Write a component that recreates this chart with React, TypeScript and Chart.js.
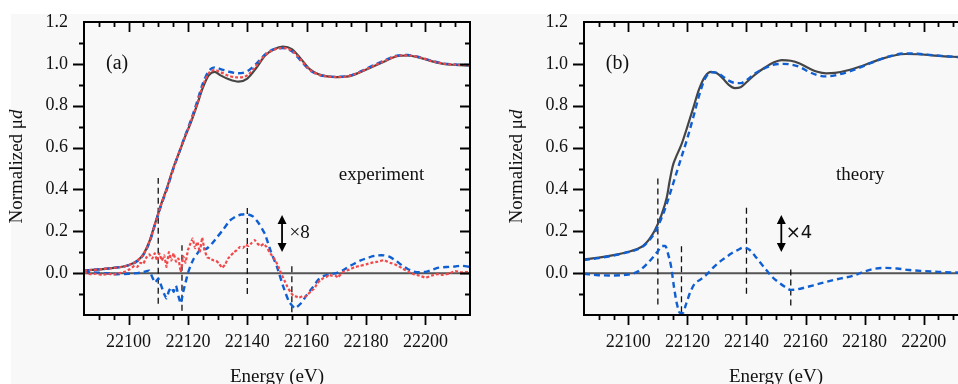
import React, { useEffect, useRef } from "react";
import { Chart, registerables } from "chart.js";
Chart.register(...registerables);

const SERIF = '"Liberation Serif", "Times New Roman", serif';
const SANS = '"DejaVu Sans", "Liberation Sans", sans-serif';

// ---------- axes ----------
const xMin = 22085;
const xMax = 22215;
const yMin = -0.2;
const yMax = 1.2;
const xTickValues = [22100, 22120, 22140, 22160, 22180, 22200];
const yTickValues = [0, 0.2, 0.4, 0.6, 0.8, 1.0, 1.2];
const xMinorStep = 5;
const yMinorStep = 0.1;

// ---------- panel (a) experiment : XANES ----------
const expE = [22085, 22090, 22095, 22100, 22103, 22105, 22107, 22109, 22111, 22113, 22115, 22117, 22119, 22121, 22123, 22125, 22127, 22129, 22131, 22134, 22137, 22140, 22143, 22146, 22149, 22152, 22155, 22158, 22161, 22164, 22167, 22170, 22174, 22178, 22182, 22186, 22190, 22194, 22198, 22202, 22206, 22210, 22215];
const expBlack = [0.012, 0.018, 0.025, 0.038, 0.06, 0.09, 0.15, 0.24, 0.33, 0.41, 0.5, 0.575, 0.65, 0.72, 0.8, 0.885, 0.945, 0.962, 0.945, 0.925, 0.915, 0.93, 0.98, 1.04, 1.07, 1.082, 1.07, 1.025, 0.975, 0.95, 0.94, 0.937, 0.94, 0.96, 0.985, 1.01, 1.035, 1.04, 1.03, 1.013, 1.0, 0.995, 0.992];
const expBlue = [0.012, 0.018, 0.025, 0.038, 0.058, 0.088, 0.145, 0.235, 0.325, 0.405, 0.495, 0.575, 0.655, 0.73, 0.815, 0.905, 0.965, 0.983, 0.975, 0.962, 0.955, 0.965, 1.0, 1.045, 1.07, 1.075, 1.06, 1.015, 0.97, 0.948, 0.94, 0.938, 0.942, 0.963, 0.99, 1.015, 1.038, 1.042, 1.032, 1.015, 1.002, 0.997, 0.994];
const expRed = [0.012, 0.018, 0.025, 0.038, 0.06, 0.09, 0.148, 0.238, 0.328, 0.408, 0.498, 0.575, 0.652, 0.725, 0.805, 0.895, 0.955, 0.97, 0.96, 0.942, 0.935, 0.945, 0.99, 1.042, 1.068, 1.076, 1.063, 1.02, 0.972, 0.949, 0.94, 0.937, 0.941, 0.961, 0.987, 1.012, 1.036, 1.041, 1.031, 1.014, 1.001, 0.996, 0.993];

// ---------- panel (a) differences (x8) ----------
const expDiffBlueE = [22085, 22088, 22092, 22096, 22100, 22103, 22105, 22107, 22108, 22109, 22110, 22111, 22112, 22112.8, 22113.6, 22114.4, 22115.2, 22116, 22116.8, 22117.6, 22118.4, 22119.2, 22120, 22121, 22122, 22123, 22124, 22125, 22126, 22127, 22128, 22130, 22132, 22134, 22136, 22138, 22140, 22142, 22144, 22146, 22148, 22150, 22152, 22154, 22156, 22158, 22160, 22162, 22164, 22166, 22168, 22170, 22172, 22174, 22176, 22178, 22180, 22182, 22184, 22186, 22188, 22190, 22192, 22194, 22196, 22198, 22200, 22202, 22204, 22206, 22208, 22210, 22212, 22215];
const expDiffBlue = [0.005, 0.003, 0.0, -0.005, -0.003, 0.0, 0.005, 0.012, -0.02, -0.045, -0.025, -0.06, -0.1, -0.12, -0.085, -0.068, -0.09, -0.06, -0.11, -0.145, -0.09, -0.045, 0.0, 0.04, 0.07, 0.09, 0.11, 0.12, 0.115, 0.125, 0.14, 0.175, 0.21, 0.25, 0.27, 0.28, 0.282, 0.27, 0.235, 0.185, 0.1, 0.03, -0.06, -0.135, -0.168, -0.145, -0.105, -0.068, -0.03, -0.012, -0.005, 0.0, 0.012, 0.03, 0.045, 0.06, 0.07, 0.08, 0.085, 0.085, 0.078, 0.06, 0.038, 0.02, 0.007, 0.004, 0.006, 0.015, 0.025, 0.028, 0.03, 0.032, 0.036, 0.03];
const expDiffRedE = [22085, 22087, 22089, 22091, 22093, 22095, 22097, 22099, 22100.5, 22102, 22103, 22104, 22105, 22106, 22107, 22108, 22108.8, 22109.6, 22110.4, 22111.2, 22112, 22112.8, 22113.6, 22114.4, 22115.2, 22116, 22116.8, 22117.6, 22118.4, 22119.2, 22120, 22120.8, 22121.6, 22122.4, 22123.2, 22124, 22124.8, 22125.6, 22126.5, 22127.5, 22128.5, 22129.5, 22130.5, 22131.5, 22132.5, 22133.5, 22134.5, 22135.5, 22136.5, 22137.5, 22138.5, 22139.5, 22140.5, 22141.5, 22142.5, 22143.5, 22144.5, 22145.5, 22146.5, 22147.5, 22148.5, 22149.5, 22150.5, 22151.5, 22152.5, 22153.5, 22154.5, 22155.5, 22156.5, 22157.5, 22158.5, 22159.5, 22160.5, 22161.5, 22162.5, 22163.5, 22164.5, 22165.5, 22166.5, 22167.5, 22168.5, 22169.5, 22170.5, 22171.5, 22172.5, 22174, 22176, 22178, 22180, 22182, 22184, 22186, 22188, 22190, 22192, 22194, 22196, 22198, 22200, 22202, 22204, 22206, 22208, 22210, 22212, 22215];
const expDiffRed = [0.005, -0.005, -0.003, -0.008, -0.004, -0.006, 0.0, 0.008, 0.02, 0.035, 0.03, 0.05, 0.045, 0.075, 0.09, 0.07, 0.095, 0.06, 0.095, 0.06, 0.085, 0.03, 0.1, 0.06, 0.095, 0.055, 0.07, 0.005, 0.08, 0.05, 0.11, 0.14, 0.165, 0.12, 0.15, 0.1, 0.17, 0.11, 0.075, 0.07, 0.062, 0.06, 0.045, 0.025, 0.04, 0.07, 0.085, 0.1, 0.11, 0.125, 0.12, 0.135, 0.13, 0.145, 0.158, 0.14, 0.13, 0.14, 0.125, 0.1, 0.08, 0.06, 0.03, -0.005, -0.035, -0.065, -0.09, -0.108, -0.112, -0.118, -0.11, -0.112, -0.1, -0.085, -0.075, -0.05, -0.035, -0.025, -0.02, -0.008, -0.012, -0.01, -0.02, -0.005, 0.008, 0.015, 0.028, 0.035, 0.042, 0.05, 0.055, 0.062, 0.05, 0.04, 0.025, 0.008, -0.005, -0.012, -0.022, -0.012, -0.005, -0.008, -0.002, 0.01, 0.004, 0.006];

// ---------- panel (b) theory : XANES ----------
const thE = [22085, 22090, 22095, 22100, 22103, 22105, 22107, 22109, 22111, 22113, 22114, 22115, 22116, 22118, 22120, 22122, 22124, 22126, 22128, 22130, 22132, 22134, 22136, 22138, 22140, 22143, 22146, 22149, 22152, 22155, 22158, 22161, 22164, 22167, 22170, 22174, 22178, 22182, 22186, 22190, 22194, 22198, 22202, 22206, 22210, 22215];
const thBlack = [0.065, 0.074, 0.086, 0.102, 0.115, 0.13, 0.16, 0.205, 0.27, 0.36, 0.44, 0.51, 0.55, 0.615, 0.7, 0.79, 0.88, 0.94, 0.962, 0.955, 0.93, 0.9, 0.884, 0.888, 0.912, 0.95, 0.98, 1.005, 1.018, 1.015, 1.002, 0.98, 0.962, 0.955, 0.957, 0.968, 0.985, 1.005, 1.025, 1.04, 1.047, 1.046, 1.042, 1.037, 1.034, 1.03];
const thBlue = [0.063, 0.072, 0.084, 0.1, 0.113, 0.128, 0.155, 0.195, 0.255, 0.33, 0.375, 0.42, 0.465, 0.555, 0.645, 0.745, 0.85, 0.93, 0.96, 0.958, 0.94, 0.92, 0.909, 0.908, 0.922, 0.955, 0.978, 0.995, 1.0, 0.997, 0.985, 0.963, 0.946, 0.94, 0.945, 0.96, 0.98, 1.003, 1.025, 1.042, 1.05, 1.048, 1.043, 1.038, 1.034, 1.03];

// ---------- panel (b) difference (x4) ----------
const thDiffE = [22085, 22090, 22095, 22099, 22102, 22104, 22106, 22108, 22110, 22111.5, 22112.5, 22113.5, 22114.5, 22115.5, 22116.5, 22117.5, 22118.5, 22119.5, 22121, 22122.5, 22124.5, 22127, 22129, 22131, 22133, 22135, 22137, 22139, 22141, 22143, 22145, 22147, 22149, 22151, 22153, 22155, 22157, 22160, 22164, 22168, 22172, 22176, 22180, 22183, 22187, 22191, 22195, 22200, 22205, 22210, 22215];
const thDiff = [-0.003, -0.01, -0.011, -0.008, 0.0, 0.015, 0.04, 0.07, 0.105, 0.13, 0.13, 0.09, 0.03, -0.07, -0.15, -0.19, -0.19, -0.15, -0.09, -0.05, -0.03, 0.0, 0.03, 0.055, 0.075, 0.095, 0.11, 0.122, 0.112, 0.08, 0.045, 0.01, -0.022, -0.045, -0.065, -0.08, -0.078, -0.068, -0.053, -0.038, -0.025, -0.013, 0.008, 0.02, 0.025, 0.022, 0.015, 0.01, 0.006, 0.003, 0.002];

// ---------- vertical guide lines ----------
const markerE = [22110, 22118, 22140, 22155];
const markerTopA = [0.455, 0.133, 0.32, 0.037];
const markerBottomA = [-0.146, -0.18, -0.1, -0.187];
const markerTopB = [0.455, 0.133, 0.325, 0.037];
const markerBottomB = [-0.15, -0.187, -0.098, -0.155];

// ---------- annotations ----------
const arrowA = { e: 22151.7, from: 0.101, to: 0.278 };
const arrowB = { e: 22151.8, from: 0.101, to: 0.278 };
const scaleLabelA = { text: "×8", e: 22154.2, v: 0.19 };
const scaleLabelB = { text: "×4", e: 22153.3, v: 0.19 };
const panelLabelA = { text: "(a)", e: 22092.4, v: 1.0 };
const panelLabelB = { text: "(b)", e: 22092.4, v: 1.0 };
const nameLabelA = { text: "experiment", e: 22170.8, v: 0.47 };
const nameLabelB = { text: "theory", e: 22170.3, v: 0.47 };
const xTitle = "Energy (eV)";
const yTitleMain = "Normalized μ";
const yTitleItalic = "d";

const BLACK = "#454545";
const BLUE = "#0f5fd2";
const RED = "#f2484a";

function pts(xs: number[], ys: number[]) {
  return xs.map((x, i) => ({ x, y: ys[i] }));
}

function smooth(ds: any, mono: boolean, tension: number) {
  if (mono) return { ...ds, cubicInterpolationMode: "monotone", tension: 0.4 };
  return { ...ds, tension };
}
function solid(data: any, order: number) {
  return smooth({ data, borderColor: BLACK, borderWidth: 2.2, pointRadius: 0, order }, true, 0);
}
function dashedBlue(data: any, order: number, mono = true, tension = 0) {
  return smooth({ data, borderColor: BLUE, borderWidth: 2.4, borderDash: [6, 4], pointRadius: 0, order }, mono, tension);
}
function dottedRed(data: any, order: number, mono = true, tension = 0) {
  return smooth({ data, borderColor: RED, borderWidth: 2.2, borderDash: [3, 2], pointRadius: 0, order }, mono, tension);
}
function markers(tops: number[], bottoms: number[]) {
  return markerE.map((e, i) => ({
    data: [{ x: e, y: bottoms[i] }, { x: e, y: tops[i] }],
    borderColor: "#111",
    borderWidth: 1.3,
    borderDash: [6, 4],
    pointRadius: 0,
    order: 6,
  }));
}
function zeroLine() {
  return { data: [{ x: xMin, y: 0 }, { x: xMax, y: 0 }], borderColor: "#555", borderWidth: 2, pointRadius: 0, order: 10 };
}

function makeDecor(ann: any) {
  return {
    id: "decor",
    afterDatasetsDraw(chart: any) {
      const { ctx, chartArea: a, scales } = chart;
      const x = scales.x;
      const y = scales.y;
      ctx.save();
      // frame
      ctx.strokeStyle = "#000";
      ctx.lineWidth = 2;
      ctx.strokeRect(a.left, a.top, a.right - a.left, a.bottom - a.top);
      // x ticks
      ctx.lineWidth = 1.8;
      ctx.beginPath();
      for (let e = xMin + xMinorStep; e < xMax; e += xMinorStep) {
        const px = Math.round(x.getPixelForValue(e)) + 0.5;
        const major = xTickValues.includes(e);
        const len = major ? 10 : 5;
        ctx.moveTo(px, a.bottom);
        ctx.lineTo(px, a.bottom + len);
        ctx.moveTo(px, a.top);
        ctx.lineTo(px, a.top + len);
      }
      // y ticks
      const nY = Math.round((yMax - yMin) / yMinorStep);
      for (let k = 1; k < nY; k++) {
        const v = yMin + k * yMinorStep;
        const py = Math.round(y.getPixelForValue(v)) + 0.5;
        const major = k % 2 === 0;
        ctx.moveTo(a.left - (major ? 11 : 5), py);
        ctx.lineTo(a.left, py);
        ctx.moveTo(a.right - (major ? 10 : 5), py);
        ctx.lineTo(a.right, py);
      }
      ctx.stroke();

      // arrow
      const ax = x.getPixelForValue(ann.arrow.e);
      const y1 = y.getPixelForValue(ann.arrow.from);
      const y2 = y.getPixelForValue(ann.arrow.to);
      ctx.fillStyle = "#000";
      ctx.lineWidth = 1.8;
      ctx.beginPath();
      ctx.moveTo(ax, y1 - 6);
      ctx.lineTo(ax, y2 + 6);
      ctx.stroke();
      ctx.beginPath();
      ctx.moveTo(ax, y2);
      ctx.lineTo(ax - 4.5, y2 + 9);
      ctx.lineTo(ax + 4.5, y2 + 9);
      ctx.closePath();
      ctx.fill();
      ctx.beginPath();
      ctx.moveTo(ax, y1);
      ctx.lineTo(ax - 4.5, y1 - 9);
      ctx.lineTo(ax + 4.5, y1 - 9);
      ctx.closePath();
      ctx.fill();

      // texts
      ctx.textBaseline = "middle";
      ctx.textAlign = "left";
      ctx.fillStyle = "#111";
      ctx.font = ann.scaleFont;
      ctx.fillText(ann.scale.text, x.getPixelForValue(ann.scale.e), y.getPixelForValue(ann.scale.v));
      ctx.font = `20px ${SERIF}`;
      ctx.fillText(ann.panel.text, x.getPixelForValue(ann.panel.e), y.getPixelForValue(ann.panel.v));
      ctx.font = `19px ${SERIF}`;
      ctx.fillText(ann.name.text, x.getPixelForValue(ann.name.e), y.getPixelForValue(ann.name.v));

      // x title
      ctx.textAlign = "center";
      ctx.font = `19px ${SERIF}`;
      ctx.fillText(xTitle, (a.left + a.right) / 2, 377);

      // y title
      ctx.save();
      ctx.translate(a.left - 67, (a.top + a.bottom) / 2 - 2);
      ctx.rotate(-Math.PI / 2);
      ctx.font = `19px ${SERIF}`;
      const w1 = ctx.measureText(yTitleMain).width;
      ctx.font = `italic 19px ${SERIF}`;
      const w2 = ctx.measureText(yTitleItalic).width;
      const start = -(w1 + w2) / 2;
      ctx.textAlign = "left";
      ctx.font = `19px ${SERIF}`;
      ctx.fillText(yTitleMain, start, 0);
      ctx.font = `italic 19px ${SERIF}`;
      ctx.fillText(yTitleItalic, start + w1, 0);
      ctx.restore();

      ctx.restore();
    },
  };
}

function makeConfig(datasets: any[], axisWidth: number, ann: any): any {
  return {
    type: "line",
    data: { datasets },
    options: {
      animation: false,
      responsive: false,
      devicePixelRatio: 1,
      layout: { padding: { left: 0, right: 10, top: 22, bottom: 0 } },
      plugins: { legend: { display: false }, tooltip: { enabled: false } },
      scales: {
        x: {
          type: "linear",
          min: xMin,
          max: xMax,
          afterBuildTicks: (s: any) => {
            s.ticks = xTickValues.map((v) => ({ value: v }));
          },
          afterFit: (s: any) => {
            s.height = 69;
          },
          grid: { display: true, drawOnChartArea: false, drawTicks: true, tickLength: 10, color: "rgba(0,0,0,0)" },
          border: { display: false },
          ticks: {
            padding: 6,
            maxRotation: 0,
            autoSkip: false,
            color: "#111",
            font: { family: SERIF, size: 18 },
            callback: (v: any) => String(v),
          },
        },
        y: {
          type: "linear",
          min: yMin,
          max: yMax,
          afterBuildTicks: (s: any) => {
            s.ticks = yTickValues.map((v) => ({ value: v }));
          },
          afterFit: (s: any) => {
            s.width = axisWidth;
          },
          grid: { display: true, drawOnChartArea: false, drawTicks: true, tickLength: 11, color: "rgba(0,0,0,0)" },
          border: { display: false },
          ticks: {
            padding: 5,
            autoSkip: false,
            color: "#111",
            font: { family: SERIF, size: 18 },
            callback: (v: any) => Number(v).toFixed(1),
          },
        },
      },
    },
    plugins: [makeDecor(ann)],
  };
}

export default function App() {
  const ref1 = useRef<HTMLCanvasElement>(null);
  const ref2 = useRef<HTMLCanvasElement>(null);

  useEffect(() => {
    const dsA = [
      zeroLine(),
      ...markers(markerTopA, markerBottomA),
      solid(pts(expE, expBlack), 4),
      dashedBlue(pts(expE, expBlue), 3),
      dottedRed(pts(expE, expRed), 2),
      dashedBlue(pts(expDiffBlueE, expDiffBlue), 3, false, 0.15),
      dottedRed(pts(expDiffRedE, expDiffRed), 2, false, 0.05),
    ];
    const dsB = [
      zeroLine(),
      ...markers(markerTopB, markerBottomB),
      solid(pts(thE, thBlack), 4),
      dashedBlue(pts(thE, thBlue), 3),
      dashedBlue(pts(thDiffE, thDiff), 3),
    ];
    const c1 = new Chart(
      ref1.current as HTMLCanvasElement,
      makeConfig(dsA, 84, { arrow: arrowA, scale: scaleLabelA, panel: panelLabelA, name: nameLabelA, scaleFont: `19px ${SERIF}` })
    );
    const c2 = new Chart(
      ref2.current as HTMLCanvasElement,
      makeConfig(dsB, 106, { arrow: arrowB, scale: scaleLabelB, panel: panelLabelB, name: nameLabelB, scaleFont: `18px ${SANS}` })
    );
    return () => {
      c1.destroy();
      c2.destroy();
    };
  }, []);

  return (
    <div style={{ position: "absolute", left: 0, top: 0, width: 958, height: 384, overflow: "hidden", background: "#fff" }}>
      <div style={{ position: "absolute", left: 11, top: 14, right: 0, bottom: 0, background: "#f8f8f8" }} />
      <canvas ref={ref1} width={480} height={384} style={{ position: "absolute", left: 0, top: 0 }} />
      <canvas ref={ref2} width={500} height={384} style={{ position: "absolute", left: 478, top: 0 }} />
    </div>
  );
}
